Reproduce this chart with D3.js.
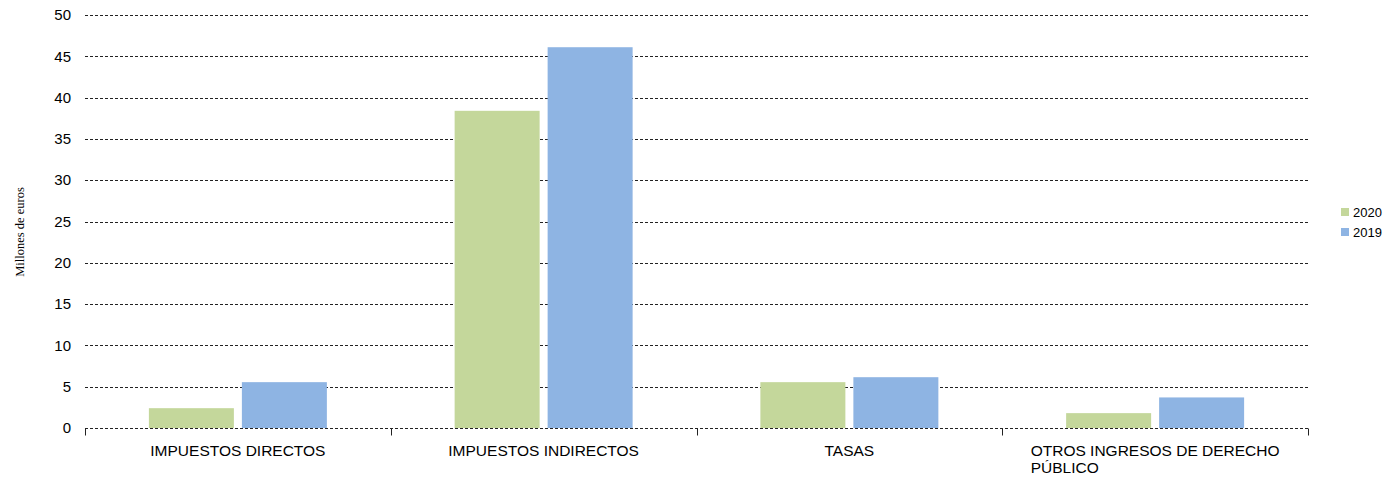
<!DOCTYPE html>
<html><head><meta charset="utf-8">
<script src="https://cdn.jsdelivr.net/npm/d3@7"></script>
<style>body{margin:0;background:#fff}</style>
</head><body>
<script>
const categories = ["IMPUESTOS DIRECTOS","IMPUESTOS INDIRECTOS","TASAS","OTROS INGRESOS DE DERECHO PÚBLICO"];
const seriesNames = ["2020","2019"];
const values2020 = [2.4, 38.4, 5.55, 1.8];
const values2019 = [5.55, 46.1, 6.15, 3.7];
const yTicks = [0,5,10,15,20,25,30,35,40,45,50];
const colors = ["#C4D79B","#8EB4E3"];

const W=1389,H=481;
const m={left:85,right:81,top:15,bottom:53};
const svg=d3.select("body").append("svg").attr("width",W).attr("height",H);
const x=d3.scaleBand().domain(categories).range([m.left,W-m.right]);
const x1=d3.scaleBand().domain(seriesNames).range([0,x.bandwidth()]).paddingInner(0.086).paddingOuter(0.687);
const y=d3.scaleLinear().domain([0,50]).range([H-m.bottom,m.top]);

// gridlines
svg.append("g").selectAll("line").data(yTicks).join("line")
 .attr("x1",m.left).attr("x2",W-m.right)
 .attr("y1",d=>Math.round(y(d))+0.5).attr("y2",d=>Math.round(y(d))+0.5)
 .attr("stroke","#222").attr("stroke-dasharray","3,2").attr("stroke-width",1);

// y labels
svg.append("g").selectAll("text").data(yTicks).join("text")
 .attr("x",71).attr("y",d=>y(d)).attr("dy","0.35em").attr("text-anchor","end")
 .attr("font-family","Liberation Sans, Arial, sans-serif").attr("font-size",15).attr("fill","#000")
 .text(d=>d);

// bars
const data=categories.map((c,i)=>({c,vals:[values2020[i],values2019[i]]}));
const g=svg.append("g").selectAll("g").data(data).join("g").attr("transform",d=>`translate(${x(d.c)},0)`);
g.selectAll("rect").data(d=>d.vals.map((v,j)=>({k:seriesNames[j],v,j}))).join("rect")
 .attr("x",d=>x1(d.k)).attr("width",x1.bandwidth())
 .attr("y",d=>y(d.v)).attr("height",d=>y(0)-y(d.v)).attr("fill",d=>colors[d.j]);

// x axis baseline and ticks
const base=Math.round(y(0))+0.5;
svg.append("line").attr("x1",m.left).attr("x2",W-m.right).attr("y1",base).attr("y2",base).attr("stroke","#222").attr("stroke-dasharray","3,2");
const bounds=categories.map(c=>x(c)).concat([W-m.right]);
svg.append("g").selectAll("line").data(bounds).join("line")
 .attr("x1",d=>Math.round(d)+0.5).attr("x2",d=>Math.round(d)+0.5).attr("y1",base).attr("y2",base+7)
 .attr("stroke","#222");

// category labels (wrap, left aligned block centered)
const maxW=260;
const fs=15.5;
const font=fs+"px 'Liberation Sans', Arial, sans-serif";
const ctx=document.createElement("canvas").getContext("2d"); ctx.font=font;
categories.forEach(c=>{
  const words=c.split(" "); const lines=[]; let cur="";
  words.forEach(w=>{const t=cur?cur+" "+w:w; if(ctx.measureText(t).width>maxW&&cur){lines.push(cur);cur=w;}else cur=t;});
  lines.push(cur);
  const bw=d3.max(lines,l=>ctx.measureText(l).width);
  const cx=x(c)+x.bandwidth()/2;
  const t=svg.append("text").attr("font-family","Liberation Sans, Arial, sans-serif").attr("font-size",fs).attr("fill","#000");
  lines.forEach((l,i)=>t.append("tspan").attr("x",cx-bw/2).attr("y",456+i*17).text(l));
});

// y title
svg.append("text").attr("transform","translate(24,232) rotate(-90)").attr("text-anchor","middle")
 .attr("font-family","Liberation Serif, Times New Roman, serif").attr("font-size",12.5).attr("fill","#000")
 .text("Millones de euros");

// legend
const lg=svg.append("g").selectAll("g").data(seriesNames).join("g").attr("transform",(d,i)=>`translate(1341,${208+i*20})`);
lg.append("rect").attr("width",8).attr("height",8).attr("fill",(d,i)=>colors[i]);
lg.append("text").attr("x",12).attr("y",4).attr("dy","0.35em").attr("font-family","Liberation Sans, Arial, sans-serif").attr("font-size",13).text(d=>d);
</script>
</body></html>
